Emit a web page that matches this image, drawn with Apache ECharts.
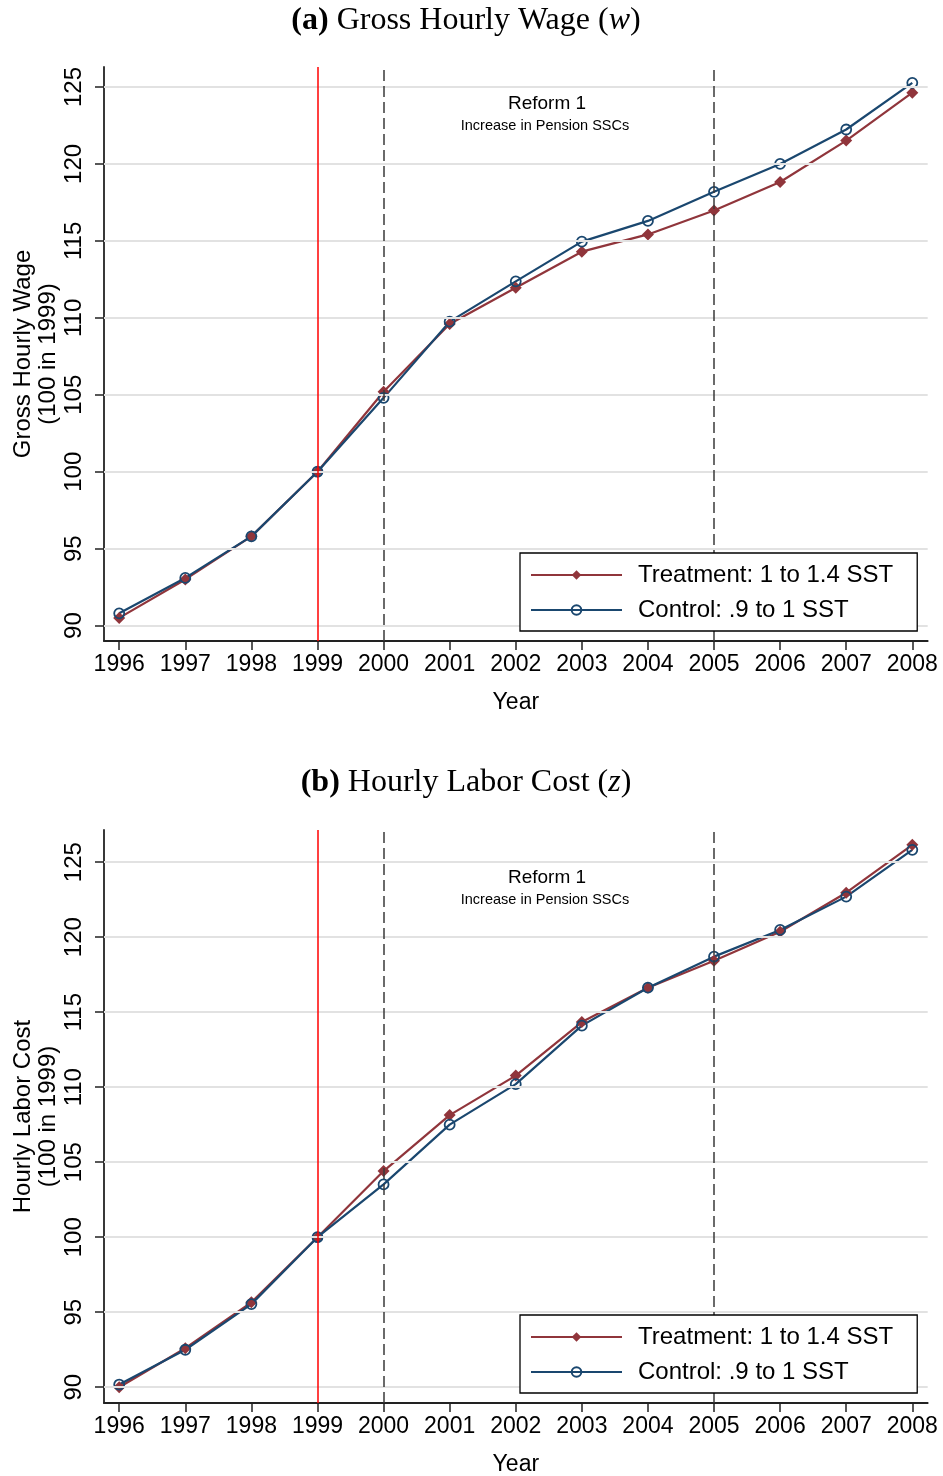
<!DOCTYPE html>
<html><head><meta charset="utf-8">
<script src="https://cdn.jsdelivr.net/npm/echarts@6.0.0/dist/echarts.min.js"></script>
<style>html,body{margin:0;padding:0;background:#fff}#c{width:943px;height:1476px}</style>
</head><body><div id="c"></div>
<script>
// ---- data ----
const years = [1996, 1997, 1998, 1999, 2000, 2001, 2002, 2003, 2004, 2005, 2006, 2007, 2008];
const yTicks = [90, 95, 100, 105, 110, 115, 120, 125];
const wageTreatment = [90.5, 93.0, 95.8, 100, 105.2, 109.6, 111.95, 114.3, 115.42, 116.97, 118.83, 121.52, 124.63];
const wageControl   = [90.8, 93.1, 95.8, 100, 104.8, 109.75, 112.37, 114.95, 116.3, 118.19, 120.0, 122.24, 125.27];
const costTreatment = [90.0, 92.6, 95.66, 100, 104.41, 108.14, 110.77, 114.34, 116.63, 118.42, 120.36, 122.96, 126.15];
const costControl   = [90.18, 92.5, 95.54, 100, 103.52, 107.5, 110.2, 114.1, 116.63, 118.7, 120.48, 122.7, 125.82];
const reformYear = [1999];
const dashedYears = [2000, 2005];
const seriesNames = ['Treatment: 1 to 1.4 SST', 'Control: .9 to 1 SST'];
const panelTitles = ['{b|(a)} Gross Hourly Wage ({i|w})', '{b|(b)} Hourly Labor Cost ({i|z})'];
const yNames = ['Gross Hourly Wage\n(100 in 1999)', 'Hourly Labor Cost\n(100 in 1999)'];
const xName = 'Year';
const noteTitle = 'Reform 1';
const noteSub = 'Increase in Pension SSCs';

// ---- styles ----
const FONT = 'Liberation Sans, Arial, sans-serif';
const SERIF = 'Liberation Serif, Times New Roman, serif';
const RED = '#90353b', NAVY = '#1a476f';
const panels = [
  {top: 67, height: 574, ymin: 89.0, ymax: 126.3, tr: wageTreatment, ct: wageControl, legendTop: 553, titleY: 21, noteY: 104},
  {top: 830, height: 573, ymin: 88.95, ymax: 127.14, tr: costTreatment, ct: costControl, legendTop: 1315, titleY: 783, noteY: 878}
];

const grid = [], xAxis = [], yAxis = [], series = [], legend = [], graphic = [];
panels.forEach((p, i) => {
  grid.push({left: 104, width: 823.7, top: p.top, height: p.height, containLabel: false, outerBoundsMode: 'none'});
  xAxis.push({
    type: 'value', gridIndex: i, min: 1995.77, max: 2008.233,
    name: xName, nameLocation: 'middle', nameGap: 50, nameMoveOverlap: false,
    nameTextStyle: {fontFamily: FONT, fontSize: 23, color: '#000'},
    axisLine: {show: true, onZero: false, lineStyle: {color: '#222', width: 1.8}},
    axisTick: {show: true, length: 9, customValues: years, lineStyle: {color: '#222', width: 1.5}},
    axisLabel: {customValues: years, formatter: v => String(v), fontFamily: FONT, fontSize: 23, color: '#000', margin: 12},
    splitLine: {show: false}
  });
  yAxis.push({
    type: 'value', gridIndex: i, min: p.ymin, max: p.ymax,
    name: yNames[i], nameLocation: 'middle', nameRotate: 90, nameGap: 43, nameMoveOverlap: false,
    nameTextStyle: {fontFamily: FONT, fontSize: 24, lineHeight: 25, color: '#000', align: 'center'},
    axisLine: {show: true, onZero: false, lineStyle: {color: '#222', width: 1.8}},
    axisTick: {show: true, length: 9, customValues: yTicks, lineStyle: {color: '#222', width: 1.5}},
    axisLabel: {customValues: yTicks, rotate: 90, fontFamily: FONT, fontSize: 24, color: '#000', margin: 18},
    splitLine: {show: false}
  });
  // gridlines
  series.push({
    type: 'line', xAxisIndex: i, yAxisIndex: i, data: [], z: 1, silent: true,
    markLine: {silent: true, symbol: ['none', 'none'], label: {show: false}, animation: false,
      lineStyle: {color: '#e2e2e2', width: 2, type: 'solid'},
      data: yTicks.map(v => ({yAxis: v}))}
  });
  // reform lines
  series.push({
    type: 'line', xAxisIndex: i, yAxisIndex: i, data: [], z: 2, silent: true,
    markLine: {silent: true, symbol: ['none', 'none'], label: {show: false}, animation: false,
      data: reformYear.map(v => ({xAxis: v, lineStyle: {color: '#ff0000', width: 1.5, type: 'solid'}}))
        .concat(dashedYears.map(v => ({xAxis: v, lineStyle: {color: '#3a3a3a', width: 1.5, type: [11, 5]}})))}
  });
  series.push({
    name: seriesNames[0], type: 'line', xAxisIndex: i, yAxisIndex: i, z: 3,
    data: years.map((y, k) => [y, p.tr[k]]),
    symbol: 'diamond', symbolSize: 12, showAllSymbol: true,
    lineStyle: {color: RED, width: 2.2}, itemStyle: {color: RED, borderWidth: 0},
    emphasis: {disabled: true}
  });
  series.push({
    name: seriesNames[1], type: 'line', xAxisIndex: i, yAxisIndex: i, z: 3,
    data: years.map((y, k) => [y, p.ct[k]]),
    symbol: 'circle', symbolSize: 10, showAllSymbol: true,
    lineStyle: {color: NAVY, width: 2.2}, itemStyle: {color: 'rgba(255,255,255,0)', borderColor: NAVY, borderWidth: 1.8},
    emphasis: {disabled: true}
  });
  legend.push({
    data: seriesNames, orient: 'vertical', left: 520, top: p.legendTop, z: 20, zlevel: 1,
    itemWidth: 91, itemHeight: 12, itemGap: 9,
    padding: [9, 24, 8, 10], backgroundColor: '#ffffff', borderColor: '#000', borderWidth: 1.3, borderRadius: 0,
    selectedMode: false,
    textStyle: {fontFamily: FONT, fontSize: 24, lineHeight: 26, color: '#000', padding: [0, 0, 0, 11]}
  });
  graphic.push({
    type: 'text', x: 466, y: p.titleY, silent: true,
    style: {text: panelTitles[i], fontFamily: SERIF, fontSize: 32, fill: '#000', align: 'center', verticalAlign: 'middle',
      rich: {b: {fontFamily: SERIF, fontSize: 32, fontWeight: 'bold'}, i: {fontFamily: SERIF, fontSize: 32, fontStyle: 'italic'}}}
  });
  graphic.push({
    type: 'text', x: 547, y: p.noteY, silent: true,
    style: {text: noteTitle, fontFamily: FONT, fontSize: 19, fill: '#000', align: 'center', verticalAlign: 'middle'}
  });
  graphic.push({
    type: 'text', x: 545, y: p.noteY + 22, silent: true,
    style: {text: noteSub, fontFamily: FONT, fontSize: 14.5, fill: '#000', align: 'center', verticalAlign: 'middle'}
  });
});

const chart = echarts.init(document.getElementById('c'), null, {renderer: 'canvas'});
chart.setOption({
  animation: false, backgroundColor: '#fff',
  grid, xAxis, yAxis, series, legend, graphic
});
</script></body></html>
